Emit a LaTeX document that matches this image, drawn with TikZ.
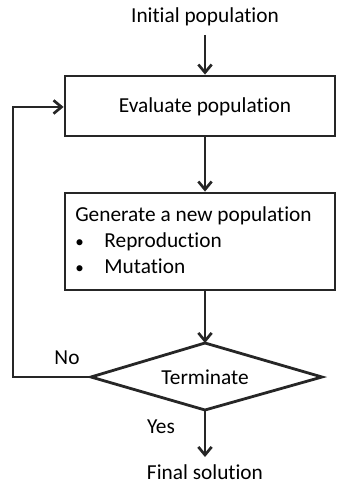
\documentclass[tikz,border=0pt]{standalone}
\usepackage{fontspec}
\setmainfont{Carlito}[Ligatures=NoCommon]
\usetikzlibrary{arrows.meta,shapes.geometric}
\begin{document}
\begin{tikzpicture}[x=0.75pt,y=-0.75pt,
  line/.style={line width=2.1pt,draw=black!85},
  arr/.style={line,-{Straight Barb[length=6pt,width=10pt,line width=2pt]}},
  txt/.style={font=\fontsize{16}{19}\selectfont,inner sep=0pt},
  box/.style={line,rectangle,minimum width=270*0.75pt,inner sep=0pt}
]
\useasboundingbox (0,0) rectangle (339,488);
% process boxes
\node[box,minimum height=60*0.75pt] (eval) at (200,106) {};
\node[txt] (evaltxt) at (205,107) {Evaluate population};
\node[box,minimum height=97*0.75pt] (gen) at (200,241.5) {};
\node[txt,anchor=base west] (g1) at (75,221) {Generate a new population};
\node[txt,anchor=base west] (g2) at (75,247) {\scalebox{0.8}{•}\hspace{15.5pt}Reproduction};
\node[txt,anchor=base west] (g3) at (75,273) {\scalebox{0.8}{•}\hspace{15.5pt}Mutation};
% decision
\coordinate (dT) at (205,343);
\coordinate (dR) at (322,377);
\coordinate (dB) at (205,410);
\coordinate (dL) at (91,377);
\draw[line,line join=miter] (dT) -- (dR) -- (dB) -- (dL) -- cycle;
\node[txt] (term) at (205,377) {Terminate};
% terminals
\node[txt] (init) at (205,17) {Initial population};
\node[txt] (final) at (205,472) {Final solution};
\node[txt] (no) at (67,358) {No};
\node[txt] (yes) at (161,427) {Yes};
% connectors
\draw[arr] (205,35) -- (eval.north -| 205,0);
\draw[arr] (eval.south -| 205,0) -- (gen.north -| 205,0);
\draw[arr] (gen.south -| 205,0) -- (dT);
\draw[arr] (dB) -- (205,457);
\draw[arr] (dL) -- (13,377) -- (13,107) -- (eval.west |- 0,107);
\end{tikzpicture}
\end{document}
